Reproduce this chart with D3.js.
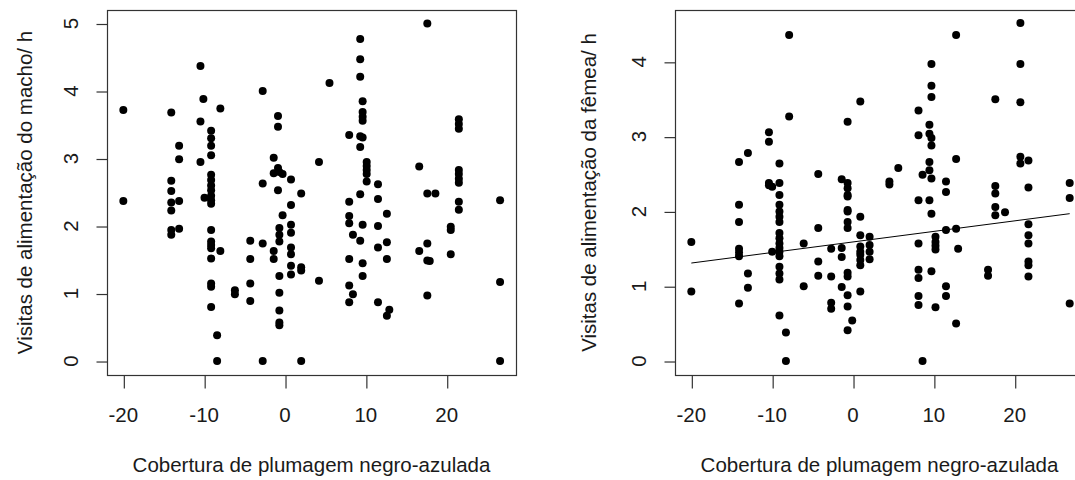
<!DOCTYPE html>
<html>
<head>
<meta charset="utf-8">
<script src="https://cdn.jsdelivr.net/npm/d3@7"></script>
<style>
    body { margin: 0; background: #fff; }
    svg { display: block; }
    .tick-label, .axis-title { font-family: "Liberation Sans", Arial, sans-serif; font-size: 20.5px; fill: #1a1a1a; }
</style>
</head>
<body>
<div id="chart"></div>
<script>
// Feeding visits per hour vs. blue-black plumage cover, one column of x per bird group

const xTicks = [-20, -10, 0, 10, 20];

// Male (left panel)
const maleCover = [-20, -14.07, -13.1, -10.46, -10.1, -9.96, -9.14, -8.4, -8.0, -6.2, -4.3, -2.76, -1.4, -0.87, -0.7, -0.3,
    0.74, 2.0, 4.2, 5.5, 7.94, 8.4, 9.3, 9.6, 10.1, 11.5, 12.6, 12.9, 16.6, 17.6, 17.9, 18.6, 20.5, 21.5, 26.6];
const maleVisits = [
    [3.72, 2.37],
    [3.68, 2.67, 2.52, 2.35, 2.23, 1.94, 1.87],
    [3.19, 2.99, 2.37, 1.96],
    [4.37, 3.55, 2.95],
    [3.88],
    [2.42],
    [3.41, 3.30, 3.19, 3.05, 2.76, 2.68, 2.60, 2.53, 2.45, 2.38, 2.33, 1.94, 1.77, 1.72, 1.67, 1.52, 1.15, 1.10, 0.80],
    [0.38, 0],
    [3.74, 1.63],
    [1.05, 0.99],
    [1.78, 1.51, 1.15, 0.89],
    [4.0, 2.63, 1.74, 0],
    [3.01, 2.78, 1.63, 1.51],
    [3.63, 3.47, 2.86, 2.53],
    [2.80, 1.97, 1.87, 1.77, 1.26, 1.01, 0.75, 0.57, 0.53],
    [2.77, 2.16],
    [2.69, 2.31, 2.02, 1.90, 1.68, 1.58, 1.41, 1.28],
    [2.48, 1.39, 1.34, 0],
    [2.95, 1.19],
    [4.12],
    [3.35, 2.36, 2.15, 2.04, 1.51, 1.12, 0.87],
    [1.87, 0.99],
    [4.77, 4.47, 4.21, 3.33, 3.17, 2.47, 1.78],
    [3.85, 3.69, 3.62, 3.56, 3.31, 2.02, 1.45, 1.26],
    [2.95, 2.89, 2.83, 2.77, 2.66],
    [2.62, 2.40, 2.00, 1.68, 0.87],
    [2.18, 1.76, 1.51, 0.67],
    [0.76],
    [2.88, 1.63],
    [5.0, 2.48, 1.74, 1.49, 0.97],
    [1.48],
    [2.48],
    [1.99, 1.94, 1.58],
    [3.58, 3.51, 3.44, 2.83, 2.77, 2.70, 2.64, 2.36, 2.24],
    [2.38, 1.17, 0]
];
const maleYTicks = [0, 1, 2, 3, 4, 5];

// Female (right panel)
const femaleCover = [-20, -14.1, -13.0, -10.4, -10.0, -9.1, -8.3, -7.9, -6.1, -4.3, -2.7, -1.4, -0.67, -0.1, 0.9, 2.05,
    4.5, 5.6, 8.1, 8.6, 9.45, 9.7, 10.2, 11.5, 12.75, 13.0, 16.7, 17.6, 18.8, 20.7, 21.7, 26.8];
const femaleVisits = [
    [1.59, 0.93],
    [2.66, 2.09, 1.86, 1.50, 1.45, 1.40, 0.77],
    [2.78, 1.17, 0.98],
    [3.06, 2.93, 2.38, 2.35],
    [2.33, 1.46],
    [2.64, 2.38, 2.22, 2.09, 2.0, 1.93, 1.86, 1.71, 1.64, 1.57, 1.51, 1.46, 1.40, 1.26, 1.17, 1.09, 0.61],
    [0.38, 0],
    [4.36, 3.27],
    [1.57, 1.0],
    [2.50, 1.78, 1.33, 1.14],
    [1.50, 1.13, 0.78, 0.70],
    [2.43, 1.51, 1.39, 0.99],
    [3.20, 2.38, 2.31, 2.22, 2.20, 2.02, 2.0, 1.86, 1.78, 1.18, 1.13, 0.88, 0.73, 0.41],
    [0.54],
    [3.47, 1.93, 1.68, 1.53, 1.46, 1.42, 1.35, 1.28, 0.93],
    [1.66, 1.55, 1.46, 1.36],
    [2.40, 2.36],
    [2.58],
    [3.35, 3.02, 2.15, 1.57, 1.22, 1.11, 0.87, 0.75],
    [2.49, 0],
    [3.16, 3.04, 2.66, 2.55, 2.15],
    [3.97, 3.68, 3.53, 2.98, 2.88, 2.44, 1.97, 1.20],
    [1.66, 1.59, 1.54, 1.49, 0.72],
    [2.40, 2.26, 1.75, 1.0, 0.87],
    [4.36, 2.70, 1.77, 0.50],
    [1.50],
    [1.22, 1.14],
    [3.50, 2.34, 2.24, 2.06, 1.95],
    [1.99],
    [4.52, 3.97, 3.46, 2.73, 2.64],
    [2.68, 2.32, 1.83, 1.68, 1.57, 1.33, 1.28, 1.13],
    [2.38, 2.18, 0.77]
];
const femaleYTicks = [0, 1, 2, 3, 4];
const femaleFit = { intercept: 1.592, slope: 0.0141 };

const xTitle = "Cobertura de plumagem negro-azulada";
const maleTitle = "Visitas de alimentação do macho/ h";
const femaleTitle = "Visitas de alimentação da fêmea/ h";


const svg = d3.select("#chart").append("svg")
    .attr("width", 1075)
    .attr("height", 480);

drawPanel({ left: 107, right: 516, cover: maleCover, visits: maleVisits, yTicks: maleYTicks,
    yLim: [-0.207, 5.2], title: maleTitle, titleX: 31.5, fit: null });
drawPanel({ left: 675, right: 1084, cover: femaleCover, visits: femaleVisits, yTicks: femaleYTicks,
    yLim: [-0.187, 4.693], title: femaleTitle, titleX: 596, fit: femaleFit });


function drawPanel(p) {
    const top = 10, bottom = 375;
    const xLim = [-22.02, 28.57];

    const xScale = d3.scaleLinear().domain(xLim).range([p.left, p.right]);
    const yScale = d3.scaleLinear().domain(p.yLim).range([bottom, top]);

    const points = [];
    p.cover.forEach((x, i) => p.visits[i].forEach(y => points.push({ x: x, y: y })));

    const g = svg.append("g");

    // frame
    g.append("rect")
        .attr("x", p.left + 0.5).attr("y", top + 0.5)
        .attr("width", p.right - p.left).attr("height", bottom - top)
        .attr("fill", "none").attr("stroke", "#333").attr("stroke-width", 1.2);

    // x axis
    const xAxis = g.append("g")
        .attr("transform", `translate(0.5,${bottom + 0.5})`)
        .call(d3.axisBottom(xScale).tickValues(xTicks).tickSize(13).tickSizeOuter(0).tickFormat(d3.format("d")));
    xAxis.select(".domain").remove();
    xAxis.selectAll(".tick line").attr("stroke", "#333").attr("stroke-width", 1.2);
    xAxis.selectAll(".tick text").remove();
    g.selectAll(".xlab")
        .data(xTicks)
        .enter()
        .append("text")
        .attr("class", "tick-label")
        .attr("text-anchor", "middle")
        .attr("x", d => xScale(d))
        .attr("y", 422)
        .text(d => d);

    // y axis
    const yAxis = g.append("g")
        .attr("transform", `translate(${p.left + 0.5},0.5)`)
        .call(d3.axisLeft(yScale).tickValues(p.yTicks).tickSize(11).tickSizeOuter(0));
    yAxis.select(".domain").remove();
    yAxis.selectAll(".tick line").attr("stroke", "#333").attr("stroke-width", 1.2);
    yAxis.selectAll(".tick text").remove();
    g.selectAll(".ylab")
        .data(p.yTicks)
        .enter()
        .append("text")
        .attr("class", "tick-label")
        .attr("text-anchor", "middle")
        .attr("transform", d => `translate(${p.left - 29.5},${yScale(d)}) rotate(-90)`)
        .text(d => d);

    // titles
    g.append("text")
        .attr("class", "axis-title")
        .attr("text-anchor", "middle")
        .attr("x", (p.left + p.right) / 2)
        .attr("y", 472)
        .text(xTitle);

    g.append("text")
        .attr("class", "axis-title")
        .attr("text-anchor", "middle")
        .attr("transform", `translate(${p.titleX},${(top + bottom) / 2}) rotate(-90)`)
        .text(p.title);

    // points
    g.append("g")
        .selectAll("circle")
        .data(points)
        .enter()
        .append("circle")
        .attr("cx", d => xScale(d.x))
        .attr("cy", d => yScale(d.y))
        .attr("r", 4)
        .attr("fill", "#000");

    // fitted line over the data range
    if (p.fit) {
        const xr = d3.extent(points, d => d.x);
        g.append("line")
            .attr("x1", xScale(xr[0])).attr("y1", yScale(p.fit.intercept + p.fit.slope * xr[0]))
            .attr("x2", xScale(xr[1])).attr("y2", yScale(p.fit.intercept + p.fit.slope * xr[1]))
            .attr("stroke", "#000").attr("stroke-width", 1);
    }
}
</script>
</body>
</html>
